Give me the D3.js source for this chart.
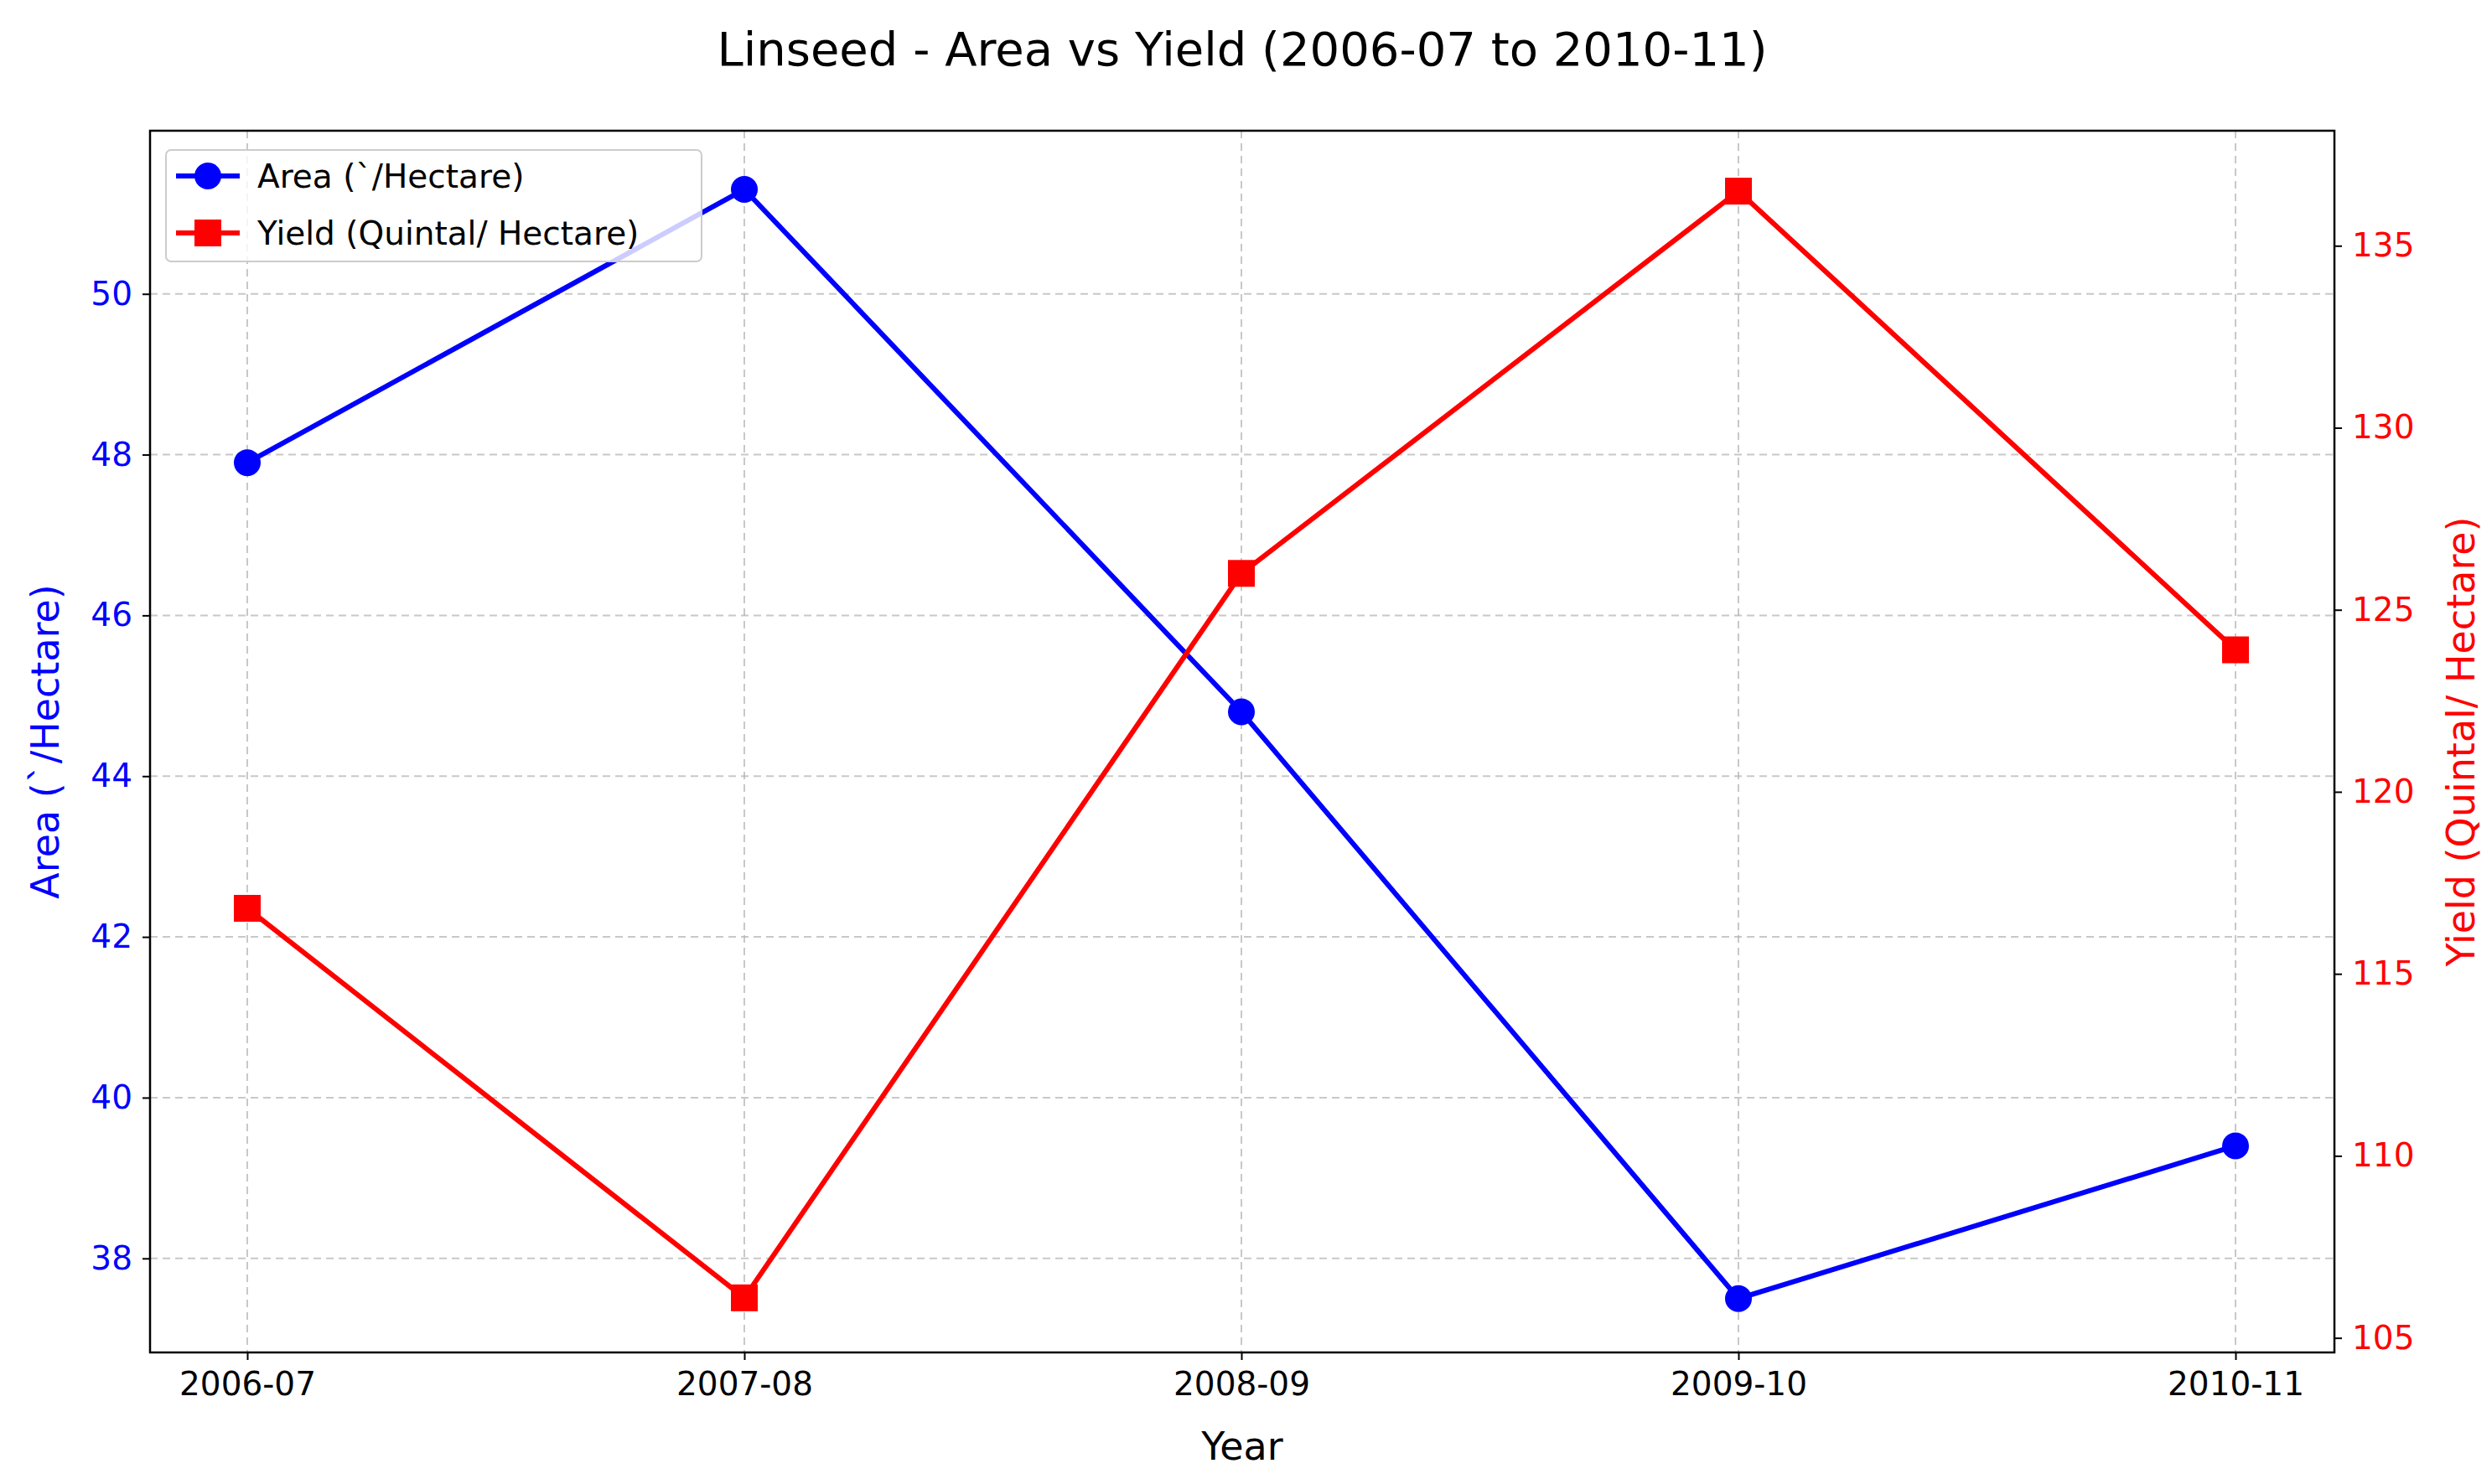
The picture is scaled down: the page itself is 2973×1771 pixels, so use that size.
<!DOCTYPE html>
<html><head><meta charset="utf-8">
<script src="https://cdn.jsdelivr.net/npm/d3@7"></script>
<style>body{margin:0;background:#fff}text{font-family:"DejaVu Sans",sans-serif}</style>
</head><body><svg id="c" width="2973" height="1771"></svg>
<script>
const years = ["2006-07", "2007-08", "2008-09", "2009-10", "2010-11"];
const area = [47.9, 51.3, 44.8, 37.5, 39.4];
const yieldVals = [116.8, 106.1, 126.0, 136.5, 123.9];
const areaTicks = [38, 40, 42, 44, 46, 48, 50];
const yieldTicks = [105, 110, 115, 120, 125, 130, 135];

const svg = d3.select("#c");
const L = 179, R = 2785, T = 156, B = 1614;

const x = d3.scalePoint().domain(years).range([295, 2667]);
const yL = d3.scaleLinear().domain([36.83, 52.03]).range([B, T]);
const yR = d3.scaleLinear().domain([104.6, 138.16]).range([B, T]);

// grid
const g = svg.append("g").attr("stroke", "#b0b0b0").attr("stroke-opacity", 0.7)
  .attr("stroke-width", 2).attr("stroke-dasharray", "9,6");
years.forEach(d => g.append("line").attr("x1", x(d)).attr("x2", x(d)).attr("y1", T).attr("y2", B));
areaTicks.forEach(d => g.append("line").attr("x1", L).attr("x2", R).attr("y1", yL(d)).attr("y2", yL(d)));

// axes
function style(sel, color) {
  sel.select(".domain").remove();
  sel.selectAll("line").attr("stroke", "#000").attr("stroke-width", 2);
  sel.selectAll("text").attr("font-size", 39).attr("fill", color).style("font-family", "DejaVu Sans");
}
svg.append("g").attr("transform", `translate(0,${B})`)
  .call(d3.axisBottom(x).tickSize(9).tickPadding(14)).call(s => style(s, "#000"));
svg.append("g").attr("transform", `translate(${L},0)`)
  .call(d3.axisLeft(yL).tickValues(areaTicks).tickSize(9).tickPadding(12)).call(s => style(s, "blue"));
svg.append("g").attr("transform", `translate(${R},0)`)
  .call(d3.axisRight(yR).tickValues(yieldTicks).tickSize(9).tickPadding(12)).call(s => style(s, "red"));

svg.append("rect").attr("x", L).attr("y", T).attr("width", R - L).attr("height", B - T)
  .attr("fill", "none").attr("stroke", "#000").attr("stroke-width", 2.5);

// lines
const lineL = d3.line().x((d, i) => x(years[i])).y(d => yL(d));
const lineR = d3.line().x((d, i) => x(years[i])).y(d => yR(d));
svg.append("path").attr("d", lineL(area)).attr("fill", "none").attr("stroke", "blue").attr("stroke-width", 6);
svg.selectAll(".ca").data(area).join("circle").attr("cx", (d, i) => x(years[i])).attr("cy", d => yL(d))
  .attr("r", 16).attr("fill", "blue");
svg.append("path").attr("d", lineR(yieldVals)).attr("fill", "none").attr("stroke", "red").attr("stroke-width", 6);
svg.selectAll(".sq").data(yieldVals).join("rect").attr("x", (d, i) => x(years[i]) - 16).attr("y", d => yR(d) - 16)
  .attr("width", 32).attr("height", 32).attr("fill", "red");

// text
svg.append("text").attr("x", (L + R) / 2).attr("y", 78).attr("text-anchor", "middle").attr("font-size", 56).text("Linseed - Area vs Yield (2006-07 to 2010-11)");
svg.append("text").attr("x", (L + R) / 2).attr("y", 1742).attr("text-anchor", "middle").attr("font-size", 46).text("Year");
svg.append("text").attr("transform", `translate(70,${(T + B) / 2}) rotate(-90)`).attr("text-anchor", "middle").attr("font-size", 46).attr("fill", "blue").text("Area (`/Hectare)");
svg.append("text").attr("transform", `translate(2952,${(T + B) / 2}) rotate(-90)`).attr("text-anchor", "middle").attr("font-size", 46).attr("fill", "red").text("Yield (Quintal/ Hectare)");

// legend
const lg = svg.append("g").attr("transform", "translate(198,179)");
lg.append("rect").attr("width", 639).attr("height", 133).attr("rx", 6).attr("fill", "#fff").attr("fill-opacity", 0.8).attr("stroke", "#ccc").attr("stroke-width", 2);
lg.append("line").attr("x1", 12).attr("x2", 88).attr("y1", 31).attr("y2", 31).attr("stroke", "blue").attr("stroke-width", 6);
lg.append("circle").attr("cx", 50).attr("cy", 31).attr("r", 16).attr("fill", "blue");
lg.append("text").attr("x", 109).attr("y", 45).attr("font-size", 39).text("Area (`/Hectare)");
lg.append("line").attr("x1", 12).attr("x2", 88).attr("y1", 99).attr("y2", 99).attr("stroke", "red").attr("stroke-width", 6);
lg.append("rect").attr("x", 34).attr("y", 83).attr("width", 32).attr("height", 32).attr("fill", "red");
lg.append("text").attr("x", 109).attr("y", 113).attr("font-size", 39).text("Yield (Quintal/ Hectare)");
</script></body></html>
